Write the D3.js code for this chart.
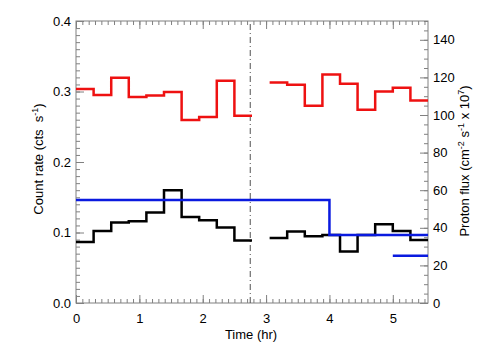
<!DOCTYPE html>
<html><head><meta charset="utf-8">
<script src="https://cdn.jsdelivr.net/npm/d3@7"></script>
<style>
body{margin:0;background:#fff}
svg{display:block}
text{font-family:"Liberation Sans",Arial,Helvetica,sans-serif;fill:#000;white-space:pre}
</style>
</head><body>
<svg id="c" width="504" height="360"></svg>
<script>
// ---- data ----
const binWidthHr = 1000 / 3600;
const part1Start = [0.000, 0.278, 0.556, 0.833, 1.111, 1.389, 1.667, 1.944, 2.222, 2.500];
const part2Start = [3.056, 3.333, 3.611, 3.889, 4.167, 4.444, 4.722, 5.000, 5.278];
const redPart1   = [0.3035, 0.295, 0.3194, 0.2922, 0.2944, 0.2992, 0.2597, 0.2639, 0.3152, 0.2657];
const redPart2   = [0.3128, 0.3095, 0.2799, 0.3241, 0.311, 0.2742, 0.3001, 0.3053, 0.2873];
const blackPart1 = [0.0866, 0.1022, 0.1141, 0.1159, 0.1282, 0.1601, 0.1220, 0.1173, 0.1070, 0.0886];
const blackPart2 = [0.0923, 0.1013, 0.0947, 0.0963, 0.0731, 0.0965, 0.1117, 0.1022, 0.0895];
const protonTimes  = [0.0, 4.0, 5.556];
const protonValues = [54.75, 36.2];
const proton2Times  = [5.0, 5.556];
const proton2Values = [25.1];
const markerTime = 2.75;
const xTicks = [0, 1, 2, 3, 4, 5];
const yTicks = [0.0, 0.1, 0.2, 0.3, 0.4];
const yRTicks = [0, 20, 40, 60, 80, 100, 120, 140];

// ---- layout ----
const L = 76, R = 428, T = 21, B = 303;
const svg = d3.select("#c");
const x = d3.scaleLinear().domain([0, 20 * binWidthHr]).range([L, R]);
const y = d3.scaleLinear().domain([0, 0.4]).range([B, T]);
const yR = d3.scaleLinear().domain([0, 150]).range([B, T]);

const axisColor = "#808080";
function styleAxis(g) {
  g.select(".domain").remove();
  g.selectAll(".tick line").attr("stroke", axisColor).attr("stroke-width", 1);
  g.selectAll("text").attr("font-size", 13).attr("fill", "#000")
   .attr("font-family", '"Liberation Sans",Arial,sans-serif');
}
const xMinor = d3.range(0, 56).map(i => i / 10).filter(v => v <= x.domain()[1]);
const yMinor = d3.range(0, 41).map(i => i / 100);
const yRMinor = d3.range(0, 151, 5);

// minor ticks
svg.append("g").attr("transform", `translate(0,${B})`)
  .call(d3.axisBottom(x).tickValues(xMinor).tickSize(-4).tickFormat("")).call(styleAxis);
svg.append("g").attr("transform", `translate(0,${T})`)
  .call(d3.axisTop(x).tickValues(xMinor).tickSize(-4).tickFormat("")).call(styleAxis);
svg.append("g").attr("transform", `translate(${L},0)`)
  .call(d3.axisLeft(y).tickValues(yMinor).tickSize(-4).tickFormat("")).call(styleAxis);
svg.append("g").attr("transform", `translate(${R},0)`)
  .call(d3.axisRight(yR).tickValues(yRMinor).tickSize(-4).tickFormat("")).call(styleAxis);

// major ticks
svg.append("g").attr("transform", `translate(0,${B})`)
  .call(d3.axisBottom(x).tickValues(xTicks).tickSize(-8).tickPadding(11).tickFormat(d3.format("d"))).call(styleAxis);
svg.append("g").attr("transform", `translate(0,${T})`)
  .call(d3.axisTop(x).tickValues(xTicks).tickSize(-8).tickFormat("")).call(styleAxis);
svg.append("g").attr("transform", `translate(${L},0)`)
  .call(d3.axisLeft(y).tickValues(yTicks).tickSize(-8).tickPadding(5).tickFormat(d3.format(".1f"))).call(styleAxis);
svg.append("g").attr("transform", `translate(${R},0)`)
  .call(d3.axisRight(yR).tickValues(yRTicks).tickSize(-8).tickPadding(5).tickFormat(d3.format("d"))).call(styleAxis);

// frame
svg.append("rect").attr("x", L).attr("y", T).attr("width", R - L).attr("height", B - T)
  .attr("fill", "none").attr("stroke", axisColor).attr("stroke-width", 1);

// marker line
svg.append("line").attr("x1", x(markerTime)).attr("x2", x(markerTime)).attr("y1", B).attr("y2", T)
  .attr("stroke", "#505050").attr("stroke-width", 1).attr("stroke-dasharray", "6,3,1,3");

// step series
function stepPoints(starts, vals, width) {
  const pts = starts.map((t, i) => [t, vals[i]]);
  pts.push([starts[starts.length - 1] + width, vals[vals.length - 1]]);
  return pts;
}
const stepLine = (ys) => d3.line().x(d => x(d[0])).y(d => ys(d[1])).curve(d3.curveStepAfter);
function drawStep(pts, ys, color) {
  svg.append("path").attr("d", stepLine(ys)(pts)).attr("fill", "none")
    .attr("stroke", color).attr("stroke-width", 2.5).attr("stroke-linejoin", "miter").attr("stroke-linecap", "butt");
}
drawStep(stepPoints(part1Start, redPart1, binWidthHr), y, "#ee1111");
drawStep(stepPoints(part2Start, redPart2, binWidthHr), y, "#ee1111");
drawStep(stepPoints(part1Start, blackPart1, binWidthHr), y, "#000");
drawStep(stepPoints(part2Start, blackPart2, binWidthHr), y, "#000");

const protonPts = protonTimes.map((t, i) => [t, protonValues[Math.min(i, protonValues.length - 1)]]);
drawStep(protonPts, yR, "#0a1adf");
const proton2Pts = proton2Times.map((t, i) => [t, proton2Values[Math.min(i, proton2Values.length - 1)]]);
drawStep(proton2Pts, yR, "#0a1adf");

// titles
svg.append("text").attr("x", (L + R) / 2 - 1).attr("y", 339).attr("text-anchor", "middle")
  .attr("font-size", 13).text("Time (hr)");

const lt = svg.append("text").attr("transform", "translate(43,159) rotate(-90)")
  .attr("text-anchor", "middle").attr("font-size", 13);
lt.append("tspan").text("Count rate (cts  s");
lt.append("tspan").attr("font-size", 9).attr("dy", -5).text("-1");
lt.append("tspan").attr("dy", 5).text(")");

const rt = svg.append("text").attr("transform", "translate(469,161) rotate(-90)")
  .attr("text-anchor", "middle").attr("font-size", 13);
rt.append("tspan").text("Proton flux (cm");
rt.append("tspan").attr("font-size", 9).attr("dy", -5).text("-2");
rt.append("tspan").attr("dy", 5).text(" s");
rt.append("tspan").attr("font-size", 9).attr("dy", -5).text("-1");
rt.append("tspan").attr("dy", 5).text(" x 10");
rt.append("tspan").attr("font-size", 9).attr("dy", -5).text("7");
rt.append("tspan").attr("dy", 5).text(")");
</script>
</body></html>
